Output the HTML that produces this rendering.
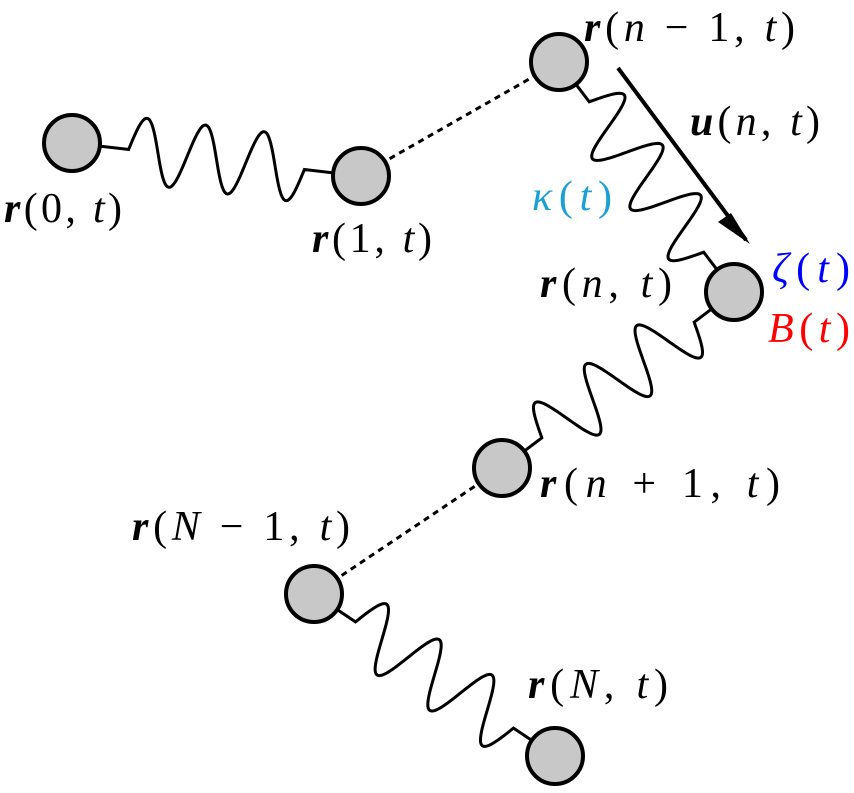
<!DOCTYPE html>
<html><head><meta charset="utf-8"><style>
html,body{margin:0;padding:0;background:#fff;}
svg text{font-family:"Liberation Serif",serif;font-size:42px;}
</style></head><body>
<svg id="s" width="854" height="788" viewBox="0 0 854 788" xmlns="http://www.w3.org/2000/svg">
<g id="springs" fill="none" stroke="#000" stroke-width="3"></g>
<line x1="361" y1="175" x2="559" y2="62" stroke="#000" stroke-width="3" stroke-dasharray="6,5"/>
<line x1="502" y1="468" x2="314" y2="594" stroke="#000" stroke-width="3" stroke-dasharray="6,5"/>
<line x1="618" y1="68" x2="746" y2="240" stroke="#000" stroke-width="4"/>
<path d="M750,244 L718,222 L731,213 Z" fill="#000"/>
<g fill="#c8c8c8" stroke="#000" stroke-width="4">
<circle cx="72" cy="143" r="28"/><circle cx="361" cy="176" r="28"/><circle cx="559" cy="62" r="28"/>
<circle cx="734" cy="292" r="28"/><circle cx="502" cy="468" r="28"/><circle cx="314" cy="594" r="28"/>
<circle cx="555" cy="756" r="28"/>
</g>
<g>
<text x="4" y="222" textLength="118" lengthAdjust="spacing"><tspan font-weight="bold" font-style="italic">r</tspan>(0, <tspan font-style="italic">t</tspan>)</text>
<text x="312" y="252" textLength="120" lengthAdjust="spacing"><tspan font-weight="bold" font-style="italic">r</tspan>(1, <tspan font-style="italic">t</tspan>)</text>
<text x="584" y="41" textLength="211" lengthAdjust="spacing"><tspan font-weight="bold" font-style="italic">r</tspan>(<tspan font-style="italic">n</tspan> − 1, <tspan font-style="italic">t</tspan>)</text>
<text x="690" y="135" textLength="130" lengthAdjust="spacing"><tspan font-weight="bold" font-style="italic">u</tspan>(<tspan font-style="italic">n</tspan>, <tspan font-style="italic">t</tspan>)</text>
<text x="532" y="210" fill="#1a9fd6" textLength="80" lengthAdjust="spacing"><tspan font-style="italic">κ</tspan>(<tspan font-style="italic">t</tspan>)</text>
<text x="540" y="297" textLength="132" lengthAdjust="spacing"><tspan font-weight="bold" font-style="italic">r</tspan>(<tspan font-style="italic">n</tspan>, <tspan font-style="italic">t</tspan>)</text>
<text x="772" y="282" fill="#0000ff" textLength="78" lengthAdjust="spacing"><tspan font-style="italic">ζ</tspan>(<tspan font-style="italic">t</tspan>)</text>
<text x="768" y="342" fill="#ff0000" textLength="82" lengthAdjust="spacing"><tspan font-style="italic">B</tspan>(<tspan font-style="italic">t</tspan>)</text>
<text x="540" y="497" textLength="240" lengthAdjust="spacing"><tspan font-weight="bold" font-style="italic">r</tspan>(<tspan font-style="italic">n</tspan> + 1, <tspan font-style="italic">t</tspan>)</text>
<text x="132" y="540" textLength="218" lengthAdjust="spacing"><tspan font-weight="bold" font-style="italic">r</tspan>(<tspan font-style="italic">N</tspan> − 1, <tspan font-style="italic">t</tspan>)</text>
<text x="528" y="698" textLength="140" lengthAdjust="spacing"><tspan font-weight="bold" font-style="italic">r</tspan>(<tspan font-style="italic">N</tspan>, <tspan font-style="italic">t</tspan>)</text>
</g>
</svg>
<script>
function spring(x0,y0,x1,y1,r,lead,amp,per){
 var dx=x1-x0,dy=y1-y0,L=Math.hypot(dx,dy),ux=dx/L,uy=dy/L,nx=uy,ny=-ux;
 var a=r, b=L-r, s=a+lead, e=b-lead;
 var d="M"+(x0+ux*a)+","+(y0+uy*a)+" L"+(x0+ux*s)+","+(y0+uy*s);
 var N=200;
 for(var i=1;i<=N;i++){var t=i/N,p=s+(e-s)*t,o=amp*Math.sin(2*Math.PI*per*t);
  d+=" L"+(x0+ux*p+nx*o).toFixed(2)+","+(y0+uy*p+ny*o).toFixed(2);}
 d+=" L"+(x0+ux*b)+","+(y0+uy*b);
 var el=document.createElementNS("http://www.w3.org/2000/svg","path");el.setAttribute("d",d);
 document.getElementById("springs").appendChild(el);
}
spring(72,143,361,176,28,29,33,3);
spring(559,62,734,292,28,22,32,3);
spring(734,292,502,468,28,22,32,3);
spring(314,594,555,756,28,22,32,3);
</script>
</body></html>
